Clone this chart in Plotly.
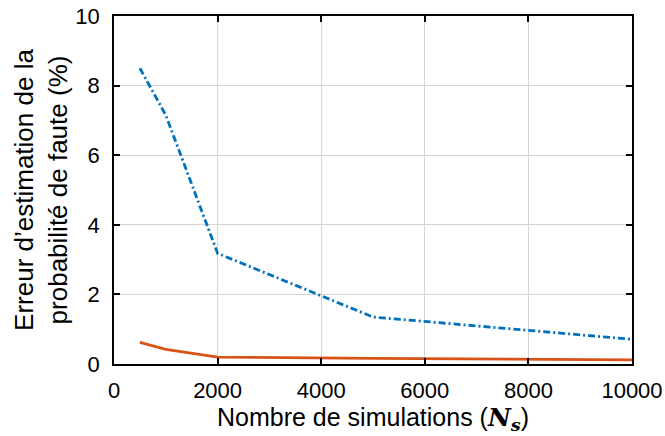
import plotly.graph_objects as go

ns_blue = [500, 1000, 2000, 5000, 10000]
err_blue = [8.5, 7.15, 3.18, 1.35, 0.71]
ns_orange = [500, 1000, 2000, 5000, 10000]
err_orange = [0.62, 0.42, 0.2, 0.16, 0.12]

x_ticks = [0, 2000, 4000, 6000, 8000, 10000]
y_ticks = [0, 2, 4, 6, 8, 10]

FONT = "Liberation Sans, Arial, sans-serif"

fig = go.Figure()
fig.add_trace(go.Scatter(x=ns_blue, y=err_blue, mode="lines",
                         line=dict(color="#0072BD", width=2.8, dash="7px,3px,2px,3px"),
                         showlegend=False))
fig.add_trace(go.Scatter(x=ns_orange, y=err_orange, mode="lines",
                         line=dict(color="#D95319", width=2.8),
                         showlegend=False))

axis_common = dict(showline=True, linecolor="black", linewidth=1.5, mirror="ticks",
                   ticks="inside", ticklen=6, tickwidth=1.5, tickcolor="black",
                   showgrid=True, gridcolor="#d4d4d4", gridwidth=1, zeroline=False,
                   tickfont=dict(family=FONT, size=22, color="black"))

fig.update_xaxes(range=[0, 10000], tickvals=x_ticks, ticktext=[str(v) for v in x_ticks],
                 ticklabelstandoff=6,
                 title=dict(text="Nombre de simulations (<b><i><span style='font-family:DejaVu Serif'>N</span></i></b><sub><b><i><span style='font-family:DejaVu Serif'>s</span></i></b></sub>)",
                            font=dict(family=FONT, size=25, color="black"),
                            standoff=6),
                 **axis_common)
fig.update_yaxes(range=[0, 10], tickvals=y_ticks, ticktext=[str(v) for v in y_ticks],
                 ticklabelstandoff=8,
                 title=dict(text="Erreur d’estimation de la<br>probabilité de faute (%)",
                            font=dict(family=FONT, size=26, color="black"),
                            standoff=0),
                 **axis_common)

fig.update_layout(width=665, height=436, margin=dict(l=114, r=33, t=16, b=72, autoexpand=False),
                  plot_bgcolor="white", paper_bgcolor="white")

fig.write_html("out.html", config={"displayModeBar": False},
               post_script="document.body.style.margin='0';")
